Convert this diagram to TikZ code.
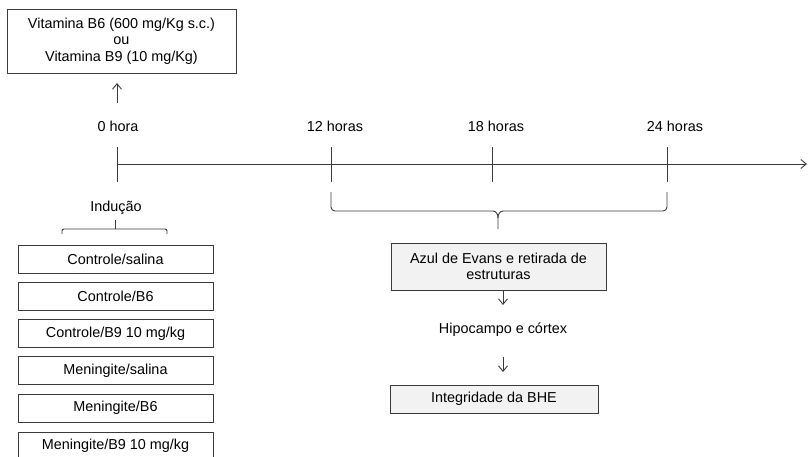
\documentclass[tikz,border=0pt]{standalone}
\usepackage{fontspec}
\setmainfont{Liberation Sans}
\usetikzlibrary{arrows.meta}
\definecolor{ink}{HTML}{3A3A3A}
\definecolor{panel}{HTML}{F2F2F2}
\tikzset{
  txt/.style={font=\fontsize{14.4}{16.5}\selectfont, text=black, inner sep=0pt, align=center},
  groupbox/.style={draw=ink, line width=0.9pt, minimum width=195pt, minimum height=28pt, inner sep=0pt, txt},
  stepbox/.style={draw=ink, line width=0.9pt, fill=panel, inner sep=0pt, txt},
  link/.style={draw=ink, line width=0.9pt},
  pointer/.style={link, -{Straight Barb[length=5.5pt, width=9pt]}},
  tick/.style={link},
}
\begin{document}
\begin{tikzpicture}[x=1pt, y=-1pt]
\useasboundingbox (0,0) rectangle (808,456);
\fill[white] (0,0) rectangle (808,456);
\begin{scope}
\clip (0,0) rectangle (808,456);

% treatment box and the arrow pointing at it
\node[draw=ink, line width=0.9pt, minimum width=229pt, minimum height=64pt, inner sep=0pt, txt]
  (vit) at (121.5,41) {Vitamina B6 (600 mg/Kg s.c.)\\ou\\Vitamina B9 (10 mg/Kg)};
\coordinate (vitfoot) at (117,103);
\coordinate (vithead) at (117,83);
\draw[pointer] (vitfoot) -- (vithead);

% time axis
\coordinate (t0) at (117,164);
\coordinate (tend) at (807,164);
\draw[pointer] (t0) -- (tend);
\foreach \name/\x in {a/117, b/331, c/492, d/667}{
  \coordinate (\name top) at (\x,147);
  \coordinate (\name bot) at (\x,182);
  \draw[tick] (\name top) -- (\name bot);
}
\node[txt] (h0)  at (118,126.5) {0 hora};
\node[txt] (h12) at (335,126.5) {12 horas};
\node[txt] (h18) at (496,126.5) {18 horas};
\node[txt] (h24) at (675,126.5) {24 horas};

% brace over 12 to 24 hours
\coordinate (bl) at (331,192);
\coordinate (br) at (667,192);
\coordinate (btip) at (498,229);
\draw[link] (bl) -- (331,207) to[out=-90,in=180] (335,211) -- (493,211)
  to[out=0,in=90] (498,218) -- (btip);
\draw[link] (br) -- (667,207) to[out=-90,in=0] (663,211) -- (503,211)
  to[out=180,in=90] (498,218);

% induction brace
\node[txt] (ind) at (116,208) {Indução};
\coordinate (il) at (62,234);
\coordinate (ir) at (167,234);
\coordinate (itip) at (115,220);
\draw[link] (il) -- (62,231) to[out=90,in=180] (64,229) -- (165,229)
  to[out=0,in=90] (167,231) -- (ir);
\draw[link] (115,229) -- (itip);

% experimental groups
\node[groupbox] (g1) at (115.5,259)   {Controle/salina};
\node[groupbox] (g2) at (115.5,296)   {Controle/B6};
\node[groupbox] (g3) at (115.5,333.5) {Controle/B9 10 mg/kg};
\node[groupbox] (g4) at (115.5,370.5) {Meningite/salina};
\node[groupbox] (g5) at (115.5,408)   {Meningite/B6};
\node[groupbox] (g6) at (115.5,446)   {Meningite/B9 10 mg/kg};

% analysis chain
\node[stepbox, minimum width=215pt, minimum height=47pt] (evans) at (498.5,266.5)
  {Azul de Evans e retirada de\\estruturas};
\node[txt] (hip) at (503,330) {Hipocampo e córtex};
\node[stepbox, minimum width=208pt, minimum height=28pt] (bhe) at (494,399)
  {Integridade da BHE};
\coordinate (a1s) at (503,291);
\coordinate (a1e) at (503,305);
\draw[pointer] (a1s) -- (a1e);
\coordinate (a2s) at (503,357);
\coordinate (a2e) at (503,372);
\draw[pointer] (a2s) -- (a2e);
\end{scope}
\end{tikzpicture}
\end{document}
